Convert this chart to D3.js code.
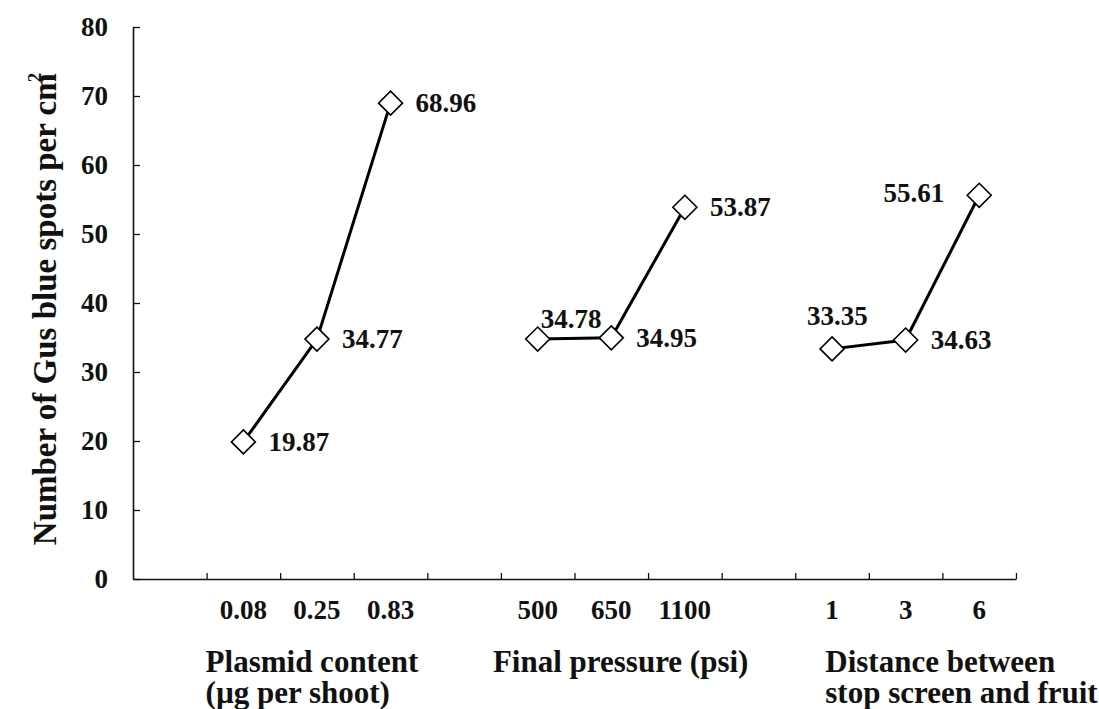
<!DOCTYPE html>
<html lang="en">
<head>
    <meta charset="UTF-8">
    <title>Gus blue spots</title>
    <script src="https://cdn.jsdelivr.net/npm/d3@7"></script>
    <style>
        body { margin: 0; background: #fff; }
        text { font-family: "Liberation Serif", "Times New Roman", serif; font-weight: bold; fill: #111; }
    </style>
</head>
<body>
    <svg width="1099" height="709"></svg>
    <script>
        // data
        const groupTitles = [['Plasmid content', '(\u00b5g per shoot)'], ['Final pressure (psi)'], ['Distance between', 'stop screen and fruit']]
        const categories = [['0.08', '0.25', '0.83'], ['500', '650', '1100'], ['1', '3', '6']]
        const values = [[19.87, 34.77, 68.96], [34.78, 34.95, 53.87], [33.35, 34.63, 55.61]]
        const yTicks = [0, 10, 20, 30, 40, 50, 60, 70, 80]
        // where each value label sits relative to its marker
        const labelSide = [['right', 'right', 'right'], ['above', 'right', 'right'], ['upleft', 'right', 'left']]

        const svg = d3.select('svg')
        const plotL = 133, plotR = 1016, plotT = 27, plotB = 579
        const nSlots = 12

        const x = d3.scaleBand().domain(d3.range(nSlots)).range([plotL, plotR]).paddingInner(0).paddingOuter(0)
        const xEdge = d3.scaleLinear().domain([0, nSlots]).range([plotL, plotR])
        const y = d3.scaleLinear().domain([0, 80]).range([plotB, plotT])

        const slot = (g, i) => 1 + g * 4 + i
        const cx = (g, i) => x(slot(g, i)) + x.bandwidth() / 2

        // y axis
        const yAxis = svg.append('g')
            .attr('transform', 'translate(' + plotL + ',0)')
            .call(d3.axisLeft(y).tickValues(yTicks).tickSizeInner(-7).tickSizeOuter(0).tickPadding(25))
        yAxis.select('.domain').attr('stroke', '#111').attr('stroke-width', 1.6)
        yAxis.selectAll('.tick line').attr('stroke', '#111').attr('stroke-width', 1.3)
        yAxis.selectAll('.tick text').attr('font-size', 27).attr('fill', null)

        // x axis (ticks on slot edges)
        const xAxis = svg.append('g')
            .attr('transform', 'translate(0,' + plotB + ')')
            .call(d3.axisBottom(xEdge).tickValues(d3.range(1, nSlots + 1)).tickSizeInner(-6).tickSizeOuter(0).tickFormat(''))
        xAxis.select('.domain').attr('stroke', '#111').attr('stroke-width', 1.6)
        xAxis.selectAll('.tick line').attr('stroke', '#111').attr('stroke-width', 1.3)

        // category labels
        categories.forEach((cats, g) => {
            svg.append('g').selectAll('text')
                .data(cats)
                .join('text')
                .attr('x', (d, i) => cx(g, i))
                .attr('y', 619)
                .attr('text-anchor', 'middle')
                .attr('font-size', 27)
                .text(d => d)
        })

        // group titles
        const titleShift = [-1, -8, 30]
        groupTitles.forEach((lines, g) => {
            svg.append('g').selectAll('text')
                .data(lines)
                .join('text')
                .attr('x', x(slot(g, 0)) + titleShift[g])
                .attr('y', (d, i) => 672 + i * 31)
                .attr('font-size', 31)
                .text(d => d)
        })

        // y title
        const yt = svg.append('text')
            .attr('transform', 'translate(56,309) rotate(-90)')
            .attr('text-anchor', 'middle')
            .attr('font-size', 33)
        yt.append('tspan').text('Number of Gus blue spots per cm')
        yt.append('tspan').attr('dx', -9).attr('dy', -15).attr('font-size', 19).text('2')

        const line = d3.line().x(d => d[0]).y(d => d[1])
        const diamond = 12

        const offsets = {
            right: { dx: 25, dy: 9, anchor: 'start' },
            above: { dx: 3, dy: -11, anchor: 'start' },
            upleft: { dx: -25, dy: -24, anchor: 'start' },
            left: { dx: -35, dy: 7, anchor: 'end' }
        }

        values.forEach((vals, g) => {
            const pts = vals.map((v, i) => [cx(g, i), y(v)])
            svg.append('path')
                .attr('d', line(pts))
                .attr('fill', 'none')
                .attr('stroke', '#000')
                .attr('stroke-width', 3)

            svg.append('g').selectAll('path')
                .data(pts)
                .join('path')
                .attr('d', d => 'M' + d[0] + ',' + (d[1] - diamond) + 'L' + (d[0] + diamond) + ',' + d[1] +
                    'L' + d[0] + ',' + (d[1] + diamond) + 'L' + (d[0] - diamond) + ',' + d[1] + 'Z')
                .attr('fill', '#fff')
                .attr('stroke', '#000')
                .attr('stroke-width', 1.6)

            svg.append('g').selectAll('text')
                .data(vals)
                .join('text')
                .attr('x', (d, i) => pts[i][0] + offsets[labelSide[g][i]].dx)
                .attr('y', (d, i) => pts[i][1] + offsets[labelSide[g][i]].dy)
                .attr('text-anchor', (d, i) => offsets[labelSide[g][i]].anchor)
                .attr('font-size', 27)
                .text(d => d.toFixed(2))
        })
    </script>
</body>
</html>
